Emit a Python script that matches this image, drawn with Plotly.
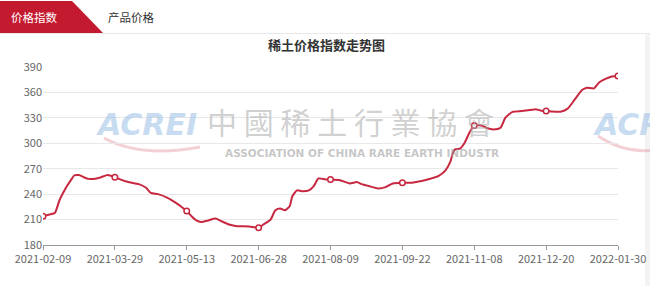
import plotly.graph_objects as go

# ---------------- data ----------------
tick_labels = ["2021-02-09", "2021-03-29", "2021-05-13", "2021-06-28", "2021-08-09",
               "2021-09-22", "2021-11-08", "2021-12-20", "2022-01-30"]
tick_index = [0, 30, 60, 90, 120, 150, 180, 210, 240]

# trading-day index along the category axis
day_index = [0, 4, 5, 7, 9, 10, 12, 13, 15, 17, 19, 21, 24, 27, 30, 33, 36, 40, 43, 45,
             48, 52, 55, 58, 60, 62, 64, 66, 69, 72, 75, 78, 81, 86, 90, 92, 95, 97, 99,
             101, 103, 104, 106, 108, 111, 113, 115, 118, 120, 124, 128, 131, 133, 136,
             140, 143, 146, 150, 154, 158, 162, 165, 168, 170, 171, 172, 174, 176, 178,
             180, 183, 185, 188, 191, 193, 196, 200, 203, 206, 208, 210, 214, 216, 219,
             222, 225, 227, 230, 232, 235, 237, 240]
index_values = [214, 216.8, 218, 233.7, 244.7, 249.5, 258, 262, 262.5, 260, 258, 258,
                259.7, 262.5, 260, 256.5, 254, 251.8, 247.5, 241.6, 240, 235.7, 230.5,
                224.6, 220, 214, 209, 207, 209, 211.3, 207.4, 203.8, 202.2, 201.8, 200.3,
                204.2, 210, 221, 223, 221, 226, 237, 244.4, 243.5, 244.4, 249.5, 258.5,
                257.3, 257.3, 256.5, 252.6, 254.2, 251.8, 249.5, 246.7, 248.3, 252.6,
                253.5, 253.5, 255.4, 258.5, 261.3, 268, 278, 288, 292.8, 293.6, 300.7,
                312.5, 321, 321, 318.4, 316.4, 318.4, 330.2, 337, 338, 339.2, 340, 338.5,
                338, 337.3, 337.3, 340.9, 351.8, 362.8, 365.6, 364.8, 371.5, 376.2, 378.6,
                379.4]
y_ticks = [180, 210, 240, 270, 300, 330, 360, 390]

marker_values = [index_values[day_index.index(i)] for i in tick_index]

LINE = "#c8283f"
FONT = "Noto Sans CJK SC, Microsoft YaHei, sans-serif"

# pixel -> paper helpers (plot area 43..618 x, 67..245 y)
L, R, T, B = 43, 32, 67, 41
W, H = 650, 286
PW, PH = W - L - R, H - T - B


def px(x):
    return (x - L) / PW


def py(y):
    return (H - B - y) / PH


fig = go.Figure()
fig.add_trace(go.Scatter(
    x=day_index, y=index_values, mode="lines",
    line=dict(color=LINE, width=2, shape="spline", smoothing=0.6),
    hoverinfo="skip", showlegend=False))
fig.add_trace(go.Scatter(
    x=tick_index, y=marker_values, mode="markers",
    marker=dict(symbol="circle", size=5.5, color="white", line=dict(color=LINE, width=1.5)),
    showlegend=False))

shapes = [
    # header tab
    dict(type="path", xref="paper", yref="paper", layer="below",
         path=f"M {px(0)},{py(1)} L {px(72)},{py(1)} L {px(103)},{py(33)} L {px(0)},{py(33)} Z",
         fillcolor="#c41a30", line=dict(width=0)),
    dict(type="line", xref="paper", yref="paper", layer="below",
         x0=px(0), x1=px(650), y0=py(33.5), y1=py(33.5), line=dict(color="#e8e8e8", width=1)),
    # right edge strip
    dict(type="rect", xref="paper", yref="paper", layer="below",
         x0=px(645), x1=px(650), y0=py(34), y1=py(286), fillcolor="#f3f3f3", line=dict(width=0)),
    # logo swooshes
    dict(type="path", xref="paper", yref="paper", layer="below",
         path=f"M {px(104)},{py(138)} Q {px(140)},{py(158)} {px(200)},{py(147)}",
         line=dict(color="rgba(220,120,130,0.35)", width=3)),
    dict(type="path", xref="paper", yref="paper", layer="below",
         path=f"M {px(598)},{py(136)} Q {px(625)},{py(154)} {px(655)},{py(150)}",
         line=dict(color="rgba(220,120,130,0.35)", width=3)),
]

annotations = [
    dict(text="价格指数", x=px(34), y=py(17), xref="paper", yref="paper", showarrow=False,
         font=dict(family=FONT, size=11.5, color="white"), xanchor="center", yanchor="middle"),
    dict(text="产品价格", x=px(131), y=py(17), xref="paper", yref="paper", showarrow=False,
         font=dict(family=FONT, size=11.5, color="#333333"), xanchor="center", yanchor="middle"),
    dict(text="<b>稀土价格指数走势图</b>", x=px(326), y=py(44), xref="paper", yref="paper",
         showarrow=False, font=dict(family=FONT, size=13, color="#333333"),
         xanchor="center", yanchor="middle"),
    # watermarks
    dict(text="<b><i>ACREI</i></b>", x=px(146), y=py(124), xref="paper", yref="paper",
         showarrow=False, font=dict(family="DejaVu Sans, sans-serif", size=30,
                                    color="rgba(150,190,230,0.55)"),
         xanchor="center", yanchor="middle"),
    dict(text="<b><i>ACREI</i></b>", x=px(591), y=py(124), xref="paper", yref="paper",
         showarrow=False, font=dict(family="DejaVu Sans, sans-serif", size=30,
                                    color="rgba(150,190,230,0.55)"),
         xanchor="left", yanchor="middle"),
    dict(text="中 國 稀 土 行 業 協 會", x=px(350), y=py(121), xref="paper", yref="paper",
         showarrow=False, font=dict(family="Noto Sans CJK TC, sans-serif", size=30,
                                    color="rgba(170,170,170,0.55)"),
         xanchor="center", yanchor="middle"),
    dict(text="<b>ASSOCIATION OF CHINA RARE EARTH INDUSTR</b>", x=px(362), y=py(153),
         xref="paper", yref="paper", showarrow=False,
         font=dict(family="DejaVu Sans, sans-serif", size=10.5, color="rgba(160,160,160,0.6)"),
         xanchor="center", yanchor="middle"),
]

fig.update_layout(
    width=W, height=H,
    margin=dict(l=L, r=R, t=T, b=B, autoexpand=False),
    paper_bgcolor="white", plot_bgcolor="white",
    font=dict(family=FONT, size=11, color="#666666"),
    shapes=shapes, annotations=annotations,
    xaxis=dict(range=[0, 240], tickmode="array", tickvals=tick_index, ticktext=tick_labels,
               showgrid=False, zeroline=False, showline=True, linecolor="#999999",
               linewidth=1, ticks="outside", ticklen=4, tickcolor="#999999",
               tickfont=dict(size=11, color="#666666"), fixedrange=True, automargin=False),
    yaxis=dict(range=[180, 390], tickmode="array", tickvals=y_ticks,
               showgrid=True, gridcolor="#e8e8e8", gridwidth=1, zeroline=False,
               showline=False, ticks="", tickfont=dict(size=11, color="#666666"),
               fixedrange=True, automargin=False),
)

fig.write_html("out.html", config={"displayModeBar": False})
